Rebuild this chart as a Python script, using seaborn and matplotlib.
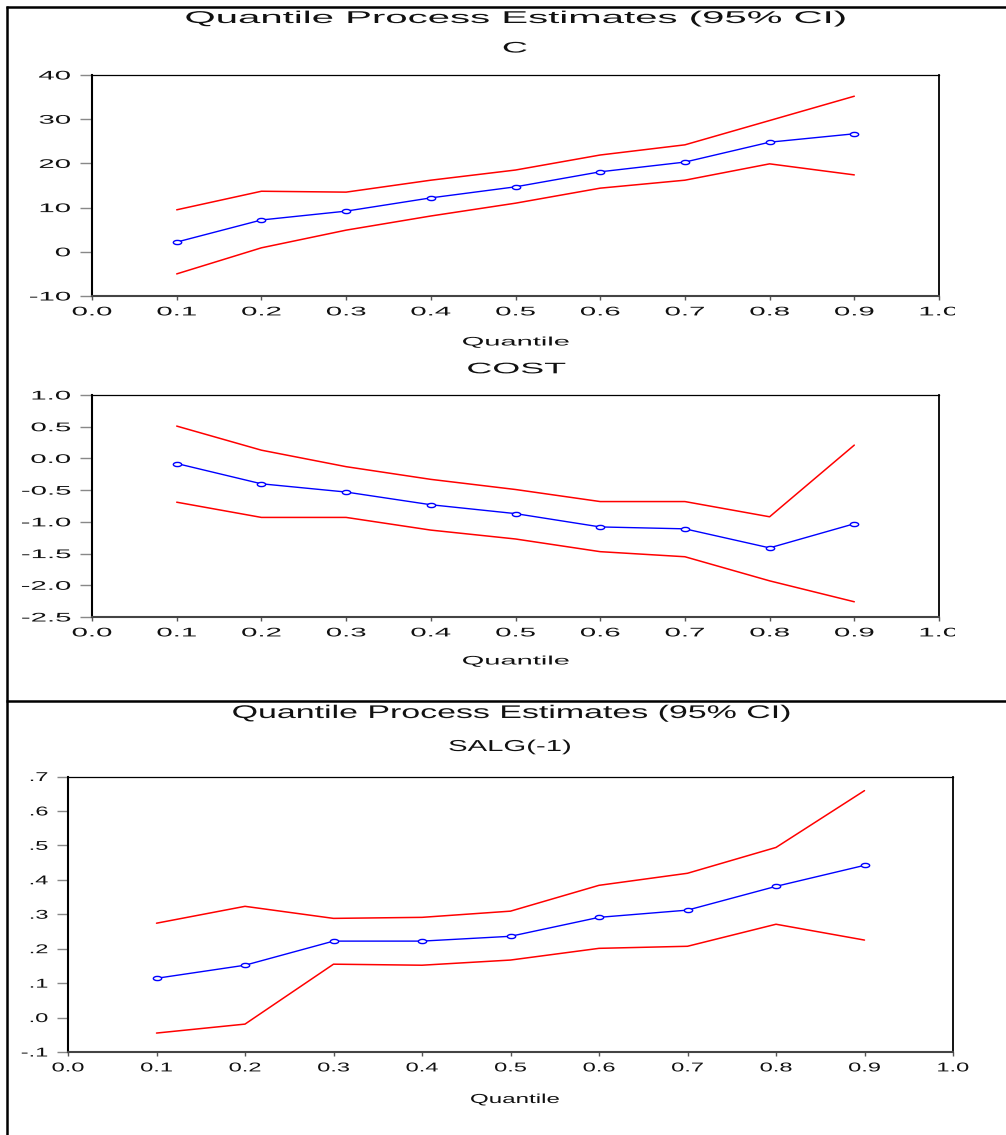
import numpy as np
import pandas as pd
import matplotlib
matplotlib.use("Agg")
import matplotlib.pyplot as plt
import seaborn as sns
from matplotlib.patheffects import AbstractPathEffect
from matplotlib.transforms import Affine2D, Bbox, TransformedBbox
from matplotlib.path import Path
from matplotlib.lines import Line2D

# ---------------------------------------------------------------- data
quantiles = [0.1, 0.2, 0.3, 0.4, 0.5, 0.6, 0.7, 0.8, 0.9]

c_est = [2.2, 7.2, 9.2, 12.2, 14.7, 18.1, 20.3, 24.8, 26.7]
c_upper = [9.5, 13.7, 13.5, 16.2, 18.5, 21.9, 24.2, 29.7, 35.2]
c_lower = [-5.0, 0.9, 4.9, 8.1, 11.0, 14.4, 16.2, 19.9, 17.4]

cost_est = [-0.08, -0.40, -0.53, -0.73, -0.87, -1.08, -1.11, -1.41, -1.03]
cost_upper = [0.51, 0.13, -0.13, -0.33, -0.49, -0.68, -0.68, -0.92, 0.21]
cost_lower = [-0.69, -0.93, -0.93, -1.13, -1.27, -1.47, -1.55, -1.93, -2.26]

salg_est = [0.114, 0.152, 0.222, 0.222, 0.236, 0.291, 0.312, 0.381, 0.442]
salg_upper = [0.274, 0.323, 0.288, 0.291, 0.309, 0.384, 0.419, 0.494, 0.659]
salg_lower = [-0.045, -0.019, 0.155, 0.152, 0.167, 0.201, 0.207, 0.271, 0.225]

x_ticks = [0.0, 0.1, 0.2, 0.3, 0.4, 0.5, 0.6, 0.7, 0.8, 0.9, 1.0]
x_tick_labels = ["0.0", "0.1", "0.2", "0.3", "0.4", "0.5", "0.6", "0.7", "0.8", "0.9", "1.0"]

c_ticks = [-10, 0, 10, 20, 30, 40]
c_tick_labels = ["-10", "0", "10", "20", "30", "40"]
cost_ticks = [-2.5, -2.0, -1.5, -1.0, -0.5, 0.0, 0.5, 1.0]
cost_tick_labels = ["-2.5", "-2.0", "-1.5", "-1.0", "-0.5", "0.0", "0.5", "1.0"]
salg_ticks = [-0.1, 0.0, 0.1, 0.2, 0.3, 0.4, 0.5, 0.6, 0.7]
salg_tick_labels = ["-.1", ".0", ".1", ".2", ".3", ".4", ".5", ".6", ".7"]

title_text = "Quantile Process Estimates (95% CI)"
x_label_text = "Quantile"


# ---------------------------------------------------------------- helpers
class Widen(AbstractPathEffect):
    """Draw text glyphs horizontally stretched about a chosen anchor."""

    def __init__(self, sx, anchor="center"):
        super().__init__()
        self.sx = sx
        self.anchor = anchor

    def draw_path(self, renderer, gc, tpath, affine, rgbFace=None):
        ext = tpath.get_extents()
        if self.anchor == "left":
            ax0 = ext.x0
        elif self.anchor == "right":
            ax0 = ext.x1
        else:
            ax0 = 0.5 * (ext.x0 + ext.x1)
        pre = Affine2D().translate(-ax0, 0).scale(self.sx, 1.0).translate(ax0, 0)
        renderer.draw_path(gc, tpath, pre + affine, rgbFace)


def widen(texts, sx, anchor="center"):
    for t in texts:
        t.set_path_effects([Widen(sx, anchor)])


# flattened open circle used for the point estimates
oval = Path(Affine2D().scale(1.0, 0.5).transform(Path.unit_circle().vertices),
            Path.unit_circle().codes)

sns.set_theme(style="white")
plt.rcParams["font.family"] = ["Liberation Sans", "DejaVu Sans"]
plt.rcParams["axes.unicode_minus"] = False

W, H = 1006, 1135
fig = plt.figure(figsize=(W / 100, H / 100), dpi=100)
fig.patch.set_facecolor("white")


def fx(px):
    return px / W


def fy(py):
    return 1 - py / H


def panel(rect, est, upper, lower, yticks, ylabels, ylim, sx, tick_size, ytick_len, ypad):
    ax = fig.add_axes(rect)
    df = pd.DataFrame({"Quantile": quantiles, "est": est,
                       "upper": upper, "lower": lower})
    sns.lineplot(data=df, x="Quantile", y="upper", color="#ff0000", lw=1.1, ax=ax)
    sns.lineplot(data=df, x="Quantile", y="lower", color="#ff0000", lw=1.1, ax=ax)
    sns.lineplot(data=df, x="Quantile", y="est", color="#0000ff", lw=1.0,
                 marker=oval, markersize=6.0, markerfacecolor="white",
                 markeredgecolor="#0000ff", markeredgewidth=1.0, ax=ax)
    ax.set_xlim(0, 1)
    ax.set_ylim(*ylim)
    ax.set_xticks(x_ticks)
    ax.set_xticklabels(x_tick_labels, fontsize=tick_size, color="#111111")
    ax.set_yticks(yticks)
    ax.set_yticklabels(ylabels, fontsize=tick_size, color="#111111")
    ax.set_xlabel("")
    ax.set_ylabel("")
    ax.set_facecolor("white")
    ax.grid(False)
    ax.tick_params(axis="y", direction="out", length=ytick_len, width=1.0,
                   color="#888888", pad=ypad, left=True)
    ax.tick_params(axis="x", direction="out", length=3, width=1.0,
                   color="#555555", pad=4.5, bottom=True)
    ax.spines["left"].set_linewidth(1.5)
    ax.spines["left"].set_color("#000000")
    ax.spines["bottom"].set_linewidth(1.5)
    ax.spines["bottom"].set_color("#444444")
    ax.spines["top"].set_linewidth(0.9)
    ax.spines["top"].set_color("#000000")
    ax.spines["right"].set_linewidth(1.3)
    ax.spines["right"].set_color("#000000")
    widen(ax.get_xticklabels(), sx, "center")
    widen(ax.get_yticklabels(), sx, "right")
    return ax


def label(x, y, s, size, sx):
    t = fig.text(fx(x), fy(y), s, ha="center", va="baseline", fontsize=size,
                 color="#111111")
    widen([t], sx, "center")
    return t


# ---------------------------------------------------------------- upper figure
SX_TOP = 2.35
ax_c = panel([fx(92), fy(296), fx(939) - fx(92), fy(75) - fy(296)],
             c_est, c_upper, c_lower, c_ticks, c_tick_labels, (-10, 40),
             SX_TOP, 9.0, 8.5, 7.0)
ax_cost = panel([fx(92), fy(617), fx(939) - fx(92), fy(395) - fy(617)],
                cost_est, cost_upper, cost_lower, cost_ticks, cost_tick_labels,
                (-2.5, 1.0), SX_TOP, 9.0, 8.5, 7.0)

# the upper figure is cut off just right of its last tick label
cut = TransformedBbox(Bbox.from_extents(0, 0, fx(955), 1), fig.transFigure)
for ax in (ax_c, ax_cost):
    last = ax.get_xticklabels()[-1]
    last.set_clip_box(cut)
    last.set_clip_on(True)

label(516.5, 23, title_text, 12.3, SX_TOP)
label(515, 52.5, "C", 11.0, SX_TOP)
label(516, 345.5, x_label_text, 8.9, SX_TOP)
label(516.5, 373.3, "COST", 11.0, SX_TOP)
label(516, 664.5, x_label_text, 8.9, SX_TOP)

# ---------------------------------------------------------------- lower figure
SX_BOT = 1.85
ax_salg = panel([fx(68), fy(1052), fx(953) - fx(68), fy(776.5) - fy(1052)],
                salg_est, salg_upper, salg_lower, salg_ticks, salg_tick_labels,
                (-0.1, 0.7), SX_BOT, 9.2, 8.0, 6.5)

label(511.5, 718, title_text, 13.2, SX_BOT)
label(510, 751, "SALG(-1)", 11.4, SX_BOT)
label(515, 1103, x_label_text, 9.4, SX_BOT)

# ---------------------------------------------------------------- frame lines
frame_kw = dict(transform=fig.transFigure, color="black", lw=1.8,
                solid_capstyle="butt")
fig.add_artist(Line2D([fx(7), fx(7)], [0, fy(5.5)], **frame_kw))
fig.add_artist(Line2D([fx(6), 1], [fy(6.5), fy(6.5)], **frame_kw))
fig.add_artist(Line2D([fx(6), 1], [fy(701), fy(701)], **frame_kw))

fig.savefig("out.png", dpi=100, facecolor="white")
